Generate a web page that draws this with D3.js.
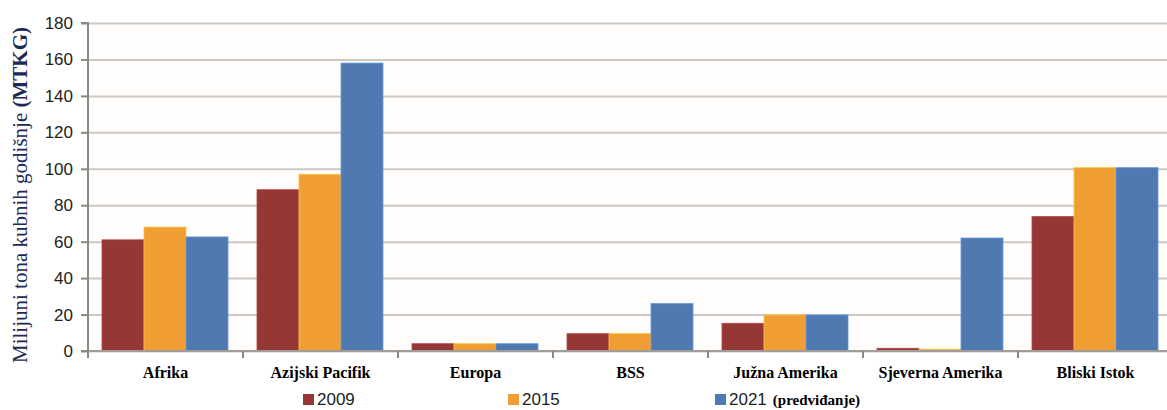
<!DOCTYPE html>
<html>
<head>
<meta charset="utf-8">
<script src="https://cdn.jsdelivr.net/npm/d3@7"></script>
<style>
  body { margin: 0; background: #fff; }
  svg { display: block; }
  .serif { font-family: "Liberation Serif", "Times New Roman", serif; }
  .sans { font-family: "Liberation Sans", Arial, sans-serif; }
</style>
</head>
<body>
<svg id="chart"></svg>
<script>
const categories = ["Afrika", "Azijski Pacifik", "Europa", "BSS", "Južna Amerika", "Sjeverna Amerika", "Bliski Istok"];
const seriesNames = ["2009", "2015", "2021"];
const values2009 = [61, 88.5, 4, 9.5, 15.2, 1.5, 73.8];
const values2015 = [68, 97, 4, 9.5, 19.8, 1, 100.6];
const values2021 = [62.6, 158, 4, 26, 19.8, 62, 100.6];
const yTicks = [0, 20, 40, 60, 80, 100, 120, 140, 160, 180];
const colors = ["#953735", "#f09e33", "#4f7ab1"];

const width = 1167, height = 410;
const margin = { left: 88, top: 23, right: -6, bottom: 59 };
const innerW = width - margin.left - margin.right;
const innerH = height - margin.top - margin.bottom;

const svg = d3.select("#chart").attr("width", width).attr("height", height);

const g = svg.append("g").attr("transform", `translate(${margin.left},${margin.top})`);

//scales
const x = d3.scaleBand().domain(categories).range([0, innerW]);
const xs = d3.scaleBand().domain(seriesNames).range([14, x.bandwidth() - 15]);
const y = d3.scaleLinear().domain([0, 180]).range([innerH, 0]);

// plot background
g.append("rect")
  .attr("width", innerW).attr("height", innerH)
  .attr("fill", "#fffdfb");

//grid lines
g.append("g")
  .call(d3.axisLeft(y).tickValues(yTicks).tickSize(-innerW).tickFormat(""))
  .call(s => s.select(".domain").remove())
  .selectAll("line")
  .attr("stroke", "#cdc8c3")
  .attr("stroke-width", 2);

//bars
const series = [values2009, values2015, values2021];
series.forEach((vals, si) => {
  g.selectAll(".bar" + si)
    .data(categories)
    .join("rect")
    .attr("class", "bar" + si)
    .attr("x", d => x(d) + xs(seriesNames[si]))
    .attr("y", (d, i) => y(vals[i]))
    .attr("width", xs.bandwidth())
    .attr("height", (d, i) => innerH - y(vals[i]))
    .attr("fill", colors[si])
    .attr("stroke", d3.color(colors[si]).brighter(0.6))
    .attr("stroke-width", 0.8);
});

// y axis
const yAxis = g.append("g")
  .call(d3.axisLeft(y).tickValues(yTicks).tickSize(7).tickPadding(8));
yAxis.select(".domain").attr("stroke", "#8c8884").attr("stroke-width", 2).attr("d", `M-7,0H0V${innerH}H-7`);
yAxis.selectAll("line").attr("stroke", "#8c8884").attr("stroke-width", 2);
yAxis.selectAll("text")
  .attr("class", "sans")
  .attr("font-family", null)
  .attr("font-size", "17px")
  .attr("fill", "#222");

// x axis baseline + boundary ticks
g.append("line")
  .attr("x1", 0).attr("x2", innerW)
  .attr("y1", innerH).attr("y2", innerH)
  .attr("stroke", "#a09c98").attr("stroke-width", 2);
g.selectAll(".xtick")
  .data(categories)
  .join("line")
  .attr("class", "xtick")
  .attr("x1", d => x(d)).attr("x2", d => x(d))
  .attr("y1", innerH).attr("y2", innerH + 7)
  .attr("stroke", "#8c8884").attr("stroke-width", 2);

// category labels
g.selectAll(".xlabel")
  .data(categories)
  .join("text")
  .attr("class", "xlabel serif")
  .attr("x", d => x(d) + x.bandwidth() / 2)
  .attr("y", innerH + 27)
  .attr("text-anchor", "middle")
  .attr("font-weight", "bold")
  .attr("font-size", "16px")
  .attr("fill", "#000")
  .text(d => d);

// y title
const yTitle = svg.append("text")
  .attr("class", "serif")
  .attr("transform", `translate(27,${margin.top + innerH / 2 + 8}) rotate(-90)`)
  .attr("text-anchor", "middle")
  .attr("font-size", "21px")
  .attr("fill", "#1b2a56");
yTitle.append("tspan").text("Milijuni tona kubnih godišnje ");
yTitle.append("tspan").attr("font-weight", "bold").text("(MTKG)");

// legend
const legendX = [303, 508, 715];
const legend = svg.append("g");
seriesNames.forEach((name, i) => {
  legend.append("rect")
    .attr("x", legendX[i]).attr("y", 394)
    .attr("width", 11).attr("height", 11)
    .attr("fill", colors[i]);
  const t = legend.append("text")
    .attr("class", "sans")
    .attr("x", legendX[i] + 14).attr("y", 405)
    .attr("font-size", "17px")
    .attr("fill", "#222")
    .text(name);
  if (i === 2) {
    t.append("tspan")
      .attr("class", "serif")
      .attr("dx", 6)
      .attr("font-weight", "bold")
      .attr("font-size", "15px")
      .attr("fill", "#000")
      .text("(predviđanje)");
  }
});
</script>
</body>
</html>
